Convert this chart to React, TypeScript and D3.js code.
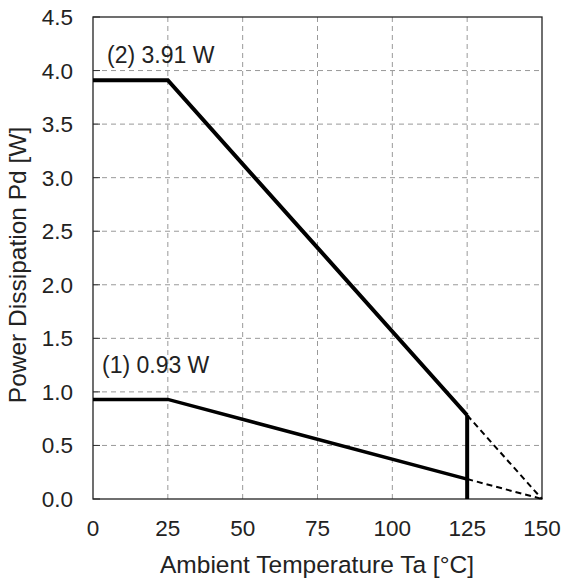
import React from "react";
import * as d3 from "d3";

const xTicks = [0, 25, 50, 75, 100, 125, 150];
const yTicks = [0, 0.5, 1.0, 1.5, 2.0, 2.5, 3.0, 3.5, 4.0, 4.5];
const series2 = [
  { t: 0, p: 3.91 },
  { t: 25, p: 3.91 },
  { t: 125, p: 0.782 },
];
const series1 = [
  { t: 0, p: 0.93 },
  { t: 25, p: 0.93 },
  { t: 125, p: 0.186 },
];
const ext2 = [
  { t: 125, p: 0.782 },
  { t: 150, p: 0 },
];
const ext1 = [
  { t: 125, p: 0.186 },
  { t: 150, p: 0 },
];
const cutoff = [
  { t: 125, p: 0.782 },
  { t: 125, p: 0 },
];
const labels = [
  { t: 4.7, p: 4.07, text: "(2) 3.91 W" },
  { t: 3.0, p: 1.176, text: "(1) 0.93 W" },
];

export default function App() {
  const W = 566, H = 581;
  const L = 93, R = 542, T = 17, B = 499;
  const x = d3.scaleLinear().domain([0, 150]).range([L, R]);
  const y = d3.scaleLinear().domain([0, 4.5]).range([B, T]);
  const line = d3
    .line<{ t: number; p: number }>()
    .x((d) => x(d.t))
    .y((d) => y(d.p));
  const font = "Liberation Sans, Arial, sans-serif";
  return (
    <svg width={W} height={H} style={{ position: "absolute", left: 0, top: 0 }} fontFamily={font}>
      <rect width={W} height={H} fill="#fff" />
      {xTicks.slice(1, -1).map((t) => (
        <line key={"gx" + t} x1={x(t)} x2={x(t)} y1={T} y2={B} stroke="#999" strokeWidth={1} strokeDasharray="5,4" />
      ))}
      {yTicks.slice(1, -1).map((t) => (
        <line key={"gy" + t} x1={L} x2={R} y1={y(t)} y2={y(t)} stroke="#999" strokeWidth={1} strokeDasharray="5,4" />
      ))}
      {yTicks.map((t) => (
        <line key={"ty" + t} x1={L} x2={L + 7} y1={y(t)} y2={y(t)} stroke="#333" strokeWidth={1} />
      ))}
      <rect x={L} y={T} width={R - L} height={B - T} fill="none" stroke="#222" strokeWidth={1.3} />
      <path d={line(ext2) || ""} fill="none" stroke="#000" strokeWidth={2} strokeDasharray="6,4" />
      <path d={line(ext1) || ""} fill="none" stroke="#000" strokeWidth={2} strokeDasharray="6,4" />
      <path d={line(series2) || ""} fill="none" stroke="#000" strokeWidth={4} />
      <path d={line(series1) || ""} fill="none" stroke="#000" strokeWidth={3.5} />
      <path d={line(cutoff) || ""} fill="none" stroke="#000" strokeWidth={4} />
      {labels.map((l) => (
        <text key={l.text} x={x(l.t)} y={y(l.p)} fontSize={23} fill="#222">
          {l.text}
        </text>
      ))}
      {xTicks.map((t) => (
        <text key={"lx" + t} x={x(t)} y={B + 37} textAnchor="middle" fontSize={22.5} fill="#222">
          {t}
        </text>
      ))}
      {yTicks.map((t) => (
        <text key={"ly" + t} x={L - 20} y={y(t) + 8} textAnchor="end" fontSize={22.5} fill="#222">
          {t.toFixed(1)}
        </text>
      ))}
      <text x={317} y={B + 74} textAnchor="middle" fontSize={24.5} fill="#222">
        Ambient Temperature Ta [°C]
      </text>
      <text transform={`translate(26,265) rotate(-90)`} textAnchor="middle" fontSize={24.5} fill="#222">
        Power Dissipation Pd [W]
      </text>
    </svg>
  );
}
